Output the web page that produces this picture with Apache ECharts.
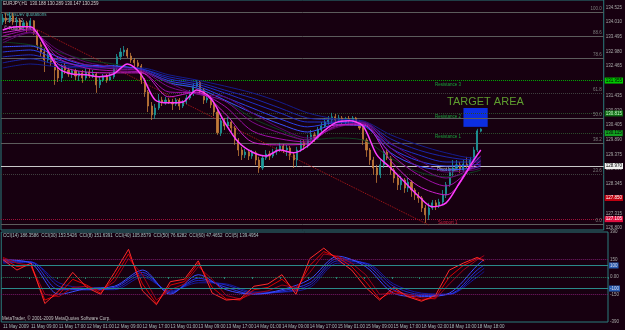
<!DOCTYPE html>
<html><head><meta charset="utf-8">
<script src="https://cdn.jsdelivr.net/npm/echarts@6/dist/echarts.min.js"></script>
<style>html,body{margin:0;padding:0;background:#170010;}#c{width:625px;height:330px;}</style>
</head><body><div id="c"></div>
<script>
// ---- data ----
const timeLabels = ['11 May 2009','11 May 09:00','11 May 17:00','12 May 01:00','12 May 09:00','12 May 17:00','13 May 01:00','13 May 09:00','13 May 17:00','14 May 01:00','14 May 09:00','14 May 17:00','15 May 01:00','15 May 09:00','15 May 17:00','18 May 02:00','18 May 10:00','18 May 18:00'];
const priceTicks = [126.800,127.315,127.830,128.345,128.860,129.375,129.890,130.405,130.920,131.435,131.950,132.465,132.980,133.495,134.010,134.525];
// [open, close, low, high] per H1 bar
const ohlc = [
[134.01,134.15,133.91,134.29],[134.15,134.08,133.94,134.33],[134.08,134.22,133.98,134.36],[134.22,134.01,133.91,134.33],
[134.01,134.08,133.87,134.19],[134.08,133.87,133.73,134.12],[133.87,133.98,133.70,134.08],[133.98,133.80,133.63,134.05],
[133.80,134.05,133.73,134.15],[134.05,133.63,133.56,134.08],[133.63,133.21,133.03,133.73],[133.21,132.96,132.79,133.31],
[132.96,132.68,132.26,133.10],[132.68,132.86,132.58,132.96],[132.86,132.61,132.47,132.93],[132.61,132.33,131.81,132.75],
[132.33,132.05,131.91,132.47],[132.05,132.47,131.91,132.54],[132.47,132.33,132.19,132.58],[132.33,132.19,132.09,132.44],
[132.19,132.30,132.05,132.37],[132.30,132.12,131.98,132.37],[132.12,132.23,131.95,132.30],[132.23,132.05,131.88,132.33],
[132.05,132.26,131.98,132.40],[132.26,132.12,132.05,132.37],[132.12,132.19,132.05,132.33],[132.19,131.81,131.53,132.26],
[131.81,131.98,131.70,132.09],[131.98,132.12,131.91,132.19],[132.12,131.98,131.88,132.19],[131.98,132.09,131.95,132.23],
[132.09,132.40,132.02,132.51],[132.40,132.79,132.33,132.89],[132.79,132.96,132.68,133.10],[132.96,133.03,132.82,133.17],
[133.03,132.82,132.75,133.10],[132.82,132.68,132.58,132.93],[132.68,132.58,132.44,132.75],[132.58,132.47,132.40,132.68],
[132.47,131.98,131.84,132.54],[131.98,131.56,131.39,132.05],[131.56,131.07,130.86,131.63],[131.07,130.76,130.58,131.21],
[130.76,131.00,130.62,131.14],[131.00,131.28,130.93,131.49],[131.28,131.18,131.07,131.39],[131.18,131.28,131.11,131.39],
[131.28,131.21,131.14,131.35],[131.21,131.14,130.93,131.32],[131.14,131.28,131.07,131.35],[131.28,131.07,130.93,131.35],
[131.07,131.21,131.00,131.28],[131.21,131.35,131.14,131.46],[131.35,131.49,131.28,131.63],[131.49,131.77,131.42,131.88],
[131.77,131.91,131.70,131.98],[131.91,131.63,131.46,131.98],[131.63,131.28,131.14,131.70],[131.28,131.35,131.18,131.46],
[131.35,131.11,131.00,131.46],[131.11,130.86,130.72,131.18],[130.86,130.13,130.06,131.00],[130.13,130.55,130.02,130.65],
[130.55,130.37,130.23,130.65],[130.37,130.51,130.30,130.69],[130.51,130.30,130.16,130.58],[130.30,129.88,129.71,130.37],
[129.88,129.53,129.32,129.95],[129.53,129.36,129.18,129.64],[129.36,129.46,129.25,129.57],[129.46,129.32,129.18,129.53],
[129.32,129.43,129.22,129.53],[129.43,129.18,129.01,129.50],[129.18,128.90,128.73,129.29],[128.90,129.25,128.83,129.36],
[129.25,129.39,129.18,129.53],[129.39,129.32,129.18,129.50],[129.32,129.46,129.25,129.57],[129.46,129.53,129.36,129.64],
[129.53,129.67,129.46,129.78],[129.67,129.53,129.43,129.74],[129.53,129.60,129.32,129.71],[129.60,129.36,129.18,129.67],
[129.36,129.18,128.90,129.46],[129.18,129.53,128.94,129.64],[129.53,129.78,129.46,129.88],[129.78,129.67,129.53,129.88],
[129.67,129.88,129.60,130.06],[129.88,130.06,129.81,130.23],[130.06,129.95,129.81,130.16],[129.95,130.23,129.88,130.34],
[130.23,130.37,130.16,130.51],[130.37,130.51,130.30,130.65],[130.51,130.58,130.41,130.72],[130.58,130.69,130.48,130.83],
[130.69,130.58,130.51,130.79],[130.58,130.65,130.48,130.76],[130.65,130.51,130.41,130.72],[130.51,130.62,130.44,130.69],
[130.62,130.55,130.44,130.72],[130.55,130.65,130.48,130.72],[130.65,130.51,130.41,130.69],[130.51,130.30,130.23,130.58],
[130.30,129.88,129.71,130.37],[129.88,129.53,129.29,129.95],[129.53,129.18,129.01,129.60],[129.18,128.90,128.66,129.29],
[128.90,128.66,128.38,129.01],[128.66,129.01,128.55,129.18],[129.01,129.46,128.90,129.53],[129.46,129.25,129.18,129.53],
[129.25,128.83,128.66,129.32],[128.83,128.55,128.38,128.90],[128.55,128.31,128.13,128.66],[128.31,128.48,128.13,128.62],
[128.48,128.20,128.03,128.55],[128.20,128.41,128.06,128.55],[128.41,128.13,127.89,128.48],[128.13,127.96,127.78,128.20],
[127.96,127.85,127.68,128.06],[127.85,127.50,127.36,127.92],[127.50,127.26,126.98,127.61],[127.26,127.50,127.08,127.68],
[127.50,127.68,127.43,127.78],[127.68,127.57,127.43,127.78],[127.57,127.71,127.50,127.82],[127.71,127.96,127.64,128.13],
[127.96,128.31,127.85,128.41],[128.31,128.76,128.24,128.90],[128.76,128.90,128.59,129.18],[128.90,129.01,128.83,129.18],
[129.01,128.83,128.73,129.11],[128.83,129.04,128.76,129.18],[129.04,128.97,128.90,129.29],[128.97,129.18,128.94,129.29],
[129.18,129.53,129.11,129.64],[129.53,130.20,129.46,130.27],[130.19,130.26,130.15,130.29]
];
// bar indices where the moving averages / CCI lines were read
const at4 = [0,4,8,12,16,20,24,28,32,36,40,44,48,52,56,60,64,68,72,76,80,84,88,92,96,100,104,108,112,116,120,124,128,132,136,138];
const at8 = [0,8,16,24,32,40,48,56,64,72,80,88,96,104,112,120,128,136,138];
// magenta ribbon (fast -> slow)
const ma1 = [133.73,133.84,133.84,133.21,132.40,132.19,132.16,132.09,132.19,132.54,132.16,131.28,131.18,131.21,131.63,131.35,130.51,129.81,129.46,129.32,129.53,129.43,129.67,130.13,130.48,130.55,130.37,129.36,128.90,128.41,127.92,127.54,127.68,128.41,129.18,129.53];
const ma2 = [133.63,133.77,132.54,132.26,132.23,132.23,131.39,131.56,130.83,129.81,129.71,129.74,130.41,130.41,129.15,128.27,127.96,129.08,129.32];
const ma3 = [133.52,133.73,132.75,132.40,132.30,132.26,131.56,131.53,131.07,130.20,129.92,129.81,130.37,130.44,129.39,128.66,128.27,128.97,129.15];
const ma4 = [133.38,133.66,132.89,132.51,132.37,132.30,131.74,131.49,131.25,130.51,130.13,129.88,130.34,130.48,129.60,128.94,128.55,128.90,129.01];
const ma5 = [133.28,133.63,133.03,132.61,132.44,132.33,131.88,131.49,131.39,130.83,130.30,129.95,130.30,130.51,129.78,129.18,128.76,128.83,128.90];
// blue ribbon (fast -> slow)
const bl1 = [133.14,133.17,132.79,132.51,132.47,132.33,131.88,131.70,131.28,130.83,130.44,130.16,130.41,130.37,129.43,128.97,128.83,128.90,128.97];
const bl2 = [132.96,133.03,132.68,132.47,132.47,132.33,131.95,131.77,131.39,131.00,130.62,130.34,130.48,130.41,129.60,129.15,128.97,129.01,129.04];
const bl3 = [132.79,132.86,132.61,132.47,132.44,132.37,132.02,131.84,131.53,131.18,130.83,130.51,130.51,130.48,129.74,129.36,129.11,129.11,129.11];
const bl4 = [132.58,132.72,132.51,132.44,132.44,132.37,132.09,131.91,131.63,131.35,131.00,130.65,130.58,130.51,129.92,129.53,129.29,129.18,129.18];
const bl5 = [132.40,132.54,132.44,132.40,132.40,132.40,132.16,131.98,131.77,131.53,131.21,130.83,130.62,130.55,130.06,129.71,129.43,129.25,129.25];
const gr1 = [133.31,133.21,132.96,132.68,132.54,132.33,131.91,131.70,131.28,130.65,130.23,129.88,129.95,129.88,129.25,128.76,128.59,128.76,128.83];
// CCI lines
const cci5  = [150,60,120,-230,-120,40,-90,-150,40,240,-120,-240,-40,-20,140,-140,-200,-190,-80,-60,20,-150,160,250,150,60,-90,-200,-90,-170,-210,-160,60,120,170,139];
const cci8  = [160,90,100,-200,-150,-20,-70,-140,0,200,-60,-230,-70,-40,120,-90,-190,-200,-110,-90,-20,-120,100,220,170,90,-40,-190,-120,-160,-200,-180,0,100,160,151];
const cci14 = [170,120,100,-150,-170,-90,-80,-120,-40,160,20,-200,-110,-60,90,-20,-160,-190,-140,-120,-70,-90,40,200,180,120,20,-150,-140,-150,-180,-190,-60,60,150,186];
const cci30 = [150,120,-150,-100,-80,60,-150,20,-110,-150,-110,-20,180,90,-140,-170,-140,100,153];
const cci40 = [140,130,-110,-110,-90,40,-140,-10,-90,-150,-120,-50,160,110,-110,-160,-150,60,105];
const cci50 = [130,130,-80,-110,-100,20,-130,-30,-70,-140,-130,-70,140,120,-80,-150,-150,30,76];
const cci60 = [120,130,-50,-100,-110,0,-120,-50,-60,-130,-130,-90,120,120,-60,-140,-150,0,47];
// horizontal levels
const fibLevels = [134.34,133.50,132.75,131.51,130.635,129.76,128.68,126.93];
const fibNames  = ['100.0','88.6','78.6','61.8','50.0','38.2','23.6','0.0'];
const pivotLevels = [131.955,130.815,130.115,128.970,127.850,127.105];
const pivotNames  = ['Resistance 3','Resistance 2','Resistance 1','Pivot level','','Support 1'];

// ---- chart ----
const NCAT = 174;
const cats = Array.from({length: NCAT}, (_, i) => String(i));
const FONT = 'Liberation Sans';
const teal = '#2a7d7d';
const showTick = (i) => i % 8 === 0 && i <= 136;

function pairs(idx, vals){ return idx.map((x, k) => [x, vals[k]]); }
function ln(name, idx, vals, color, width, axis, smooth){
  return {name, type:'line', xAxisIndex:axis, yAxisIndex:axis, data:pairs(idx, vals), showSymbol:false, symbol:'none',
    smooth: smooth, connectNulls:true, lineStyle:{color, width}, silent:true, z:3, animation:false};
}

const fibStyle = ['solid','solid','solid','dotted','solid','solid','dotted','solid'];
const fibColor = ['#5c5c5c','#5c5c5c','#5c5c5c','#3e3e3e','#5c5c5c','#5c5c5c','#3e3e3e','#5c5c5c'];
const mlData = fibLevels.map((v, k) => ({yAxis:v, lineStyle:{color:fibColor[k], type:fibStyle[k], width:1},
  label:{show:true, position:'insideEndTop', formatter:fibNames[k], color:'#7c7c7c', fontSize:4.5, fontFamily:FONT, distance:[2,1]}}));
const pvStyle = [
  {line:'#00a800', type:'dotted', bg:'#00c800', fg:'#000'},
  {line:'#2c4a2c', type:'dotted', bg:'#0d6a12', fg:'#cfc'},
  {line:'#2c4a2c', type:'dotted', bg:'#12a020', fg:'#000'},
  {line:'#c8c8c8', type:'solid',  bg:'#f0f0f0', fg:'#000'},
  {line:'rgba(0,0,0,0)', type:'solid', bg:'#c00010', fg:'#fff'},
  {line:'#a0103a', type:'dotted', bg:'#e01040', fg:'#fff'}
];
pivotLevels.forEach((v, k) => mlData.push({yAxis:v, lineStyle:{color:pvStyle[k].line, type:pvStyle[k].type, width:1},
  label:{show:true, position:'end', formatter:v.toFixed(3), color:pvStyle[k].fg, backgroundColor:pvStyle[k].bg,
         fontSize:4.5, fontFamily:FONT, padding:[1,1,0,1], distance:1}}));
mlData.push([{coord:[9,133.80], lineStyle:{color:'#b01818', type:'dotted', width:1}, label:{show:false}}, {coord:[123,126.905]}]);

const option = {
  backgroundColor:'#170010',
  animation:false,
  textStyle:{fontFamily:FONT},
  grid:[
    {left:1, width:607, top:0, height:230, show:true, borderColor:teal, borderWidth:1, backgroundColor:'transparent'},
    {left:1, width:607, top:232, height:90, show:true, borderColor:teal, borderWidth:1, backgroundColor:'transparent'}
  ],
  xAxis:[
    {type:'category', gridIndex:0, data:cats, boundaryGap:true, axisLine:{show:false}, axisTick:{show:false}, axisLabel:{show:false}},
    {type:'category', gridIndex:1, data:cats, boundaryGap:true, axisLine:{show:false},
     axisTick:{show:true, interval:(i)=>showTick(i), length:2, lineStyle:{color:teal}},
     axisLabel:{interval:(i)=>showTick(i), formatter:(v, i)=>timeLabels[Math.round(i/8)], align:'left',
                fontSize:4.5, color:'#a8bcbc', margin:2, fontFamily:FONT}}
  ],
  yAxis:[
    {type:'value', gridIndex:0, position:'right', min:126.73, max:134.78, scale:true,
     axisLine:{show:false}, axisTick:{show:false}, splitLine:{show:false},
     axisLabel:{customValues:priceTicks, formatter:(v)=>v.toFixed(3), fontSize:4.5, color:'#a8a8a8', margin:2, fontFamily:FONT}},
    {type:'value', gridIndex:1, position:'right', min:-390, max:390,
     axisLine:{show:false}, axisTick:{show:false}, splitLine:{show:false},
     axisLabel:{customValues:[390,150,0,-150,-390], formatter:(v)=> v===0 ? '0.00' : String(v), fontSize:4.5, color:'#a8a8a8', margin:2, fontFamily:FONT}}
  ],
  series:[
    {type:'candlestick', xAxisIndex:0, yAxisIndex:0, data:ohlc, barWidth:1.6, z:2,
     itemStyle:{color:'#1e9a9a', color0:'#c27a38', borderColor:'#1e9a9a', borderColor0:'#c27a38', borderWidth:0.8},
     markLine:{symbol:['none','none'], silent:true, animation:false, z:1, data:mlData},
     markArea:{silent:true, itemStyle:{color:'#0c2ee0'}, data:[[{xAxis:133, yAxis:131.00},{xAxis:140, yAxis:130.34}]]}
    },
    ln('G', at8, gr1, '#0f4020', 1, 0, 0.3),
    ln('B5', at8, bl5, '#141c8c', 1, 0, 0.3),
    ln('B4', at8, bl4, '#1a26aa', 1, 0, 0.3),
    ln('B3', at8, bl3, '#2030c8', 1, 0, 0.3),
    ln('B2', at8, bl2, '#2a40e8', 1, 0, 0.3),
    ln('B1', at8, bl1, '#3a52ff', 1, 0, 0.3),
    ln('M5', at8, ma5, '#5c0870', 1, 0, 0.3),
    ln('M4', at8, ma4, '#7c0c8a', 1, 0, 0.3),
    ln('M3', at8, ma3, '#a010a8', 1, 0, 0.3),
    ln('M2', at8, ma2, '#cc20cc', 1, 0, 0.3),
    ln('M1', at4, ma1, '#ff3cff', 1.5, 0, 0.3),
    Object.assign(ln('CCI(60)', at8, cci60, '#1418a0', 1, 1, 0.3), {
      markLine:{symbol:['none','none'], silent:true, animation:false, data:[
        {yAxis:100, lineStyle:{color:'#2a8a8a', type:'solid', width:1}, label:{show:true, position:'end', formatter:'100', backgroundColor:'#2a5cb0', color:'#dde', fontSize:4.5, padding:[1,1,0,1], distance:1}},
        {yAxis:-100, lineStyle:{color:'#2a8a8a', type:'solid', width:1}, label:{show:true, position:'end', formatter:'-100', backgroundColor:'#2a5cb0', color:'#dde', fontSize:4.5, padding:[1,1,0,1], distance:1}},
        {yAxis:0, lineStyle:{color:'#2a7a5a', type:'dotted', width:1}, label:{show:false}},
        {yAxis:150, lineStyle:{color:'#7a1a6a', type:'dotted', width:1}, label:{show:false}},
        {yAxis:-150, lineStyle:{color:'#7a1a6a', type:'dotted', width:1}, label:{show:false}}
      ]}}),
    ln('CCI(50)', at8, cci50, '#1c28c0', 1, 1, 0.3),
    ln('CCI(40)', at8, cci40, '#2636e8', 1, 1, 0.3),
    ln('CCI(30)', at8, cci30, '#3a4cff', 1, 1, 0.3),
    ln('CCI(14)', at4, cci14, '#a00018', 1, 1, false),
    ln('CCI(8)', at4, cci8, '#dc0000', 1, 1, false),
    ln('CCI(5)', at4, cci5, '#ff2a2a', 1, 1, false)
  ],
  graphic:[
    {type:'text', left:3, top:1, style:{text:'EURJPY,H1  130.188 130.289 130.147 130.259', fill:'#d0d0d0', fontSize:4.5, fontFamily:FONT}},
    {type:'text', left:4, top:12, style:{text:'VegasDev quotations', fill:'#4aa8a0', fontSize:4.5, fontFamily:FONT}},
    {type:'text', left:4, top:18, style:{text:'VSA 1.12', fill:'#c0c0c0', fontSize:4.5, fontFamily:FONT}},
    {type:'text', left:4, top:26, style:{text:'© Tdigger', fill:'#d0a0d0', fontSize:4.5, fontFamily:FONT}},
    {type:'text', left:435, top:82, style:{text:pivotNames[0], fill:'#1aa03a', fontSize:4.5, fontFamily:FONT}},
    {type:'text', left:435, top:114, style:{text:pivotNames[1], fill:'#1aa03a', fontSize:4.5, fontFamily:FONT}},
    {type:'text', left:435, top:134, style:{text:pivotNames[2], fill:'#1aa03a', fontSize:4.5, fontFamily:FONT}},
    {type:'text', left:437, top:167, style:{text:pivotNames[3], fill:'#d8d8d8', fontSize:4.5, fontFamily:FONT}},
    {type:'text', left:438, top:220, style:{text:pivotNames[5], fill:'#d02040', fontSize:4.5, fontFamily:FONT}},
    {type:'text', left:447, top:96, style:{text:'TARGET AREA', fill:'#5f9e2f', fontSize:11, fontFamily:FONT}},
    {type:'text', left:3, top:233, style:{text:'CCI(14) 186.3586  CCI(30) 153.5426  CCI(8) 151.6391  CCI(40) 105.8579  CCI(50) 76.6282  CCI(60) 47.4652  CCI(5) 139.4954', fill:'#a9c4c4', fontSize:4.5, fontFamily:FONT}},
    {type:'text', left:2, top:316, style:{text:'MetaTrader, © 2001-2009 MetaQuotes Software Corp.', fill:'#c0c0c0', fontSize:4.5, fontFamily:FONT}}
  ]
};
const chart = echarts.init(document.getElementById('c'), null, {renderer:'canvas'});
chart.setOption(option);
</script>
</body></html>
